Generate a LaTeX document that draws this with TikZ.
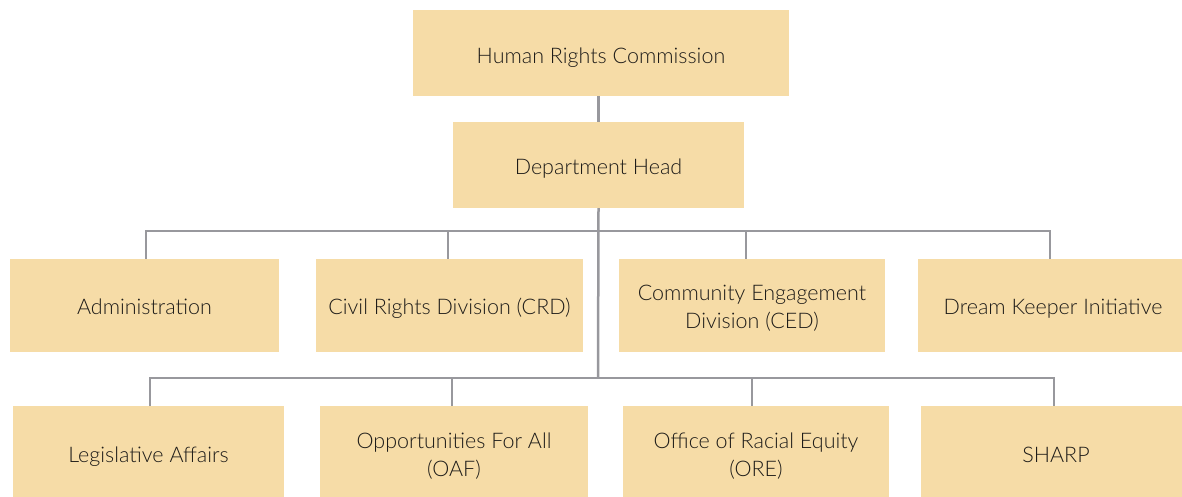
\documentclass[tikz,border=0pt]{standalone}
\usepackage{fontspec}
\setmainfont{Lato Light}
\definecolor{boxfill}{RGB}{246,220,167}
\definecolor{linegray}{RGB}{152,152,157}
\definecolor{txt}{RGB}{30,28,25}
\newcommand{\boxtxt}[2][-3pt]{\raisebox{#1}[\height][\depth]{\begin{tabular}{@{}c@{}}#2\end{tabular}}}
\begin{document}
\begin{tikzpicture}[x=1pt,y=-1pt,
  orgbox/.style={fill=boxfill, inner sep=0pt, align=center, text=txt,
    font=\fontsize{21.5}{28}\selectfont},
  conn/.style={draw=linegray, line width=2.5pt}]
\useasboundingbox (0,0) rectangle (1182,497);
\node[orgbox, minimum width=376, minimum height=86] (hrc) at (601,53) {\boxtxt[-5pt]{Human Rights Commission}};
\node[orgbox, minimum width=291, minimum height=86] (dh) at (598.5,165) {\boxtxt[-4pt]{Department Head}};
% row 1
\node[orgbox, minimum width=269, minimum height=93] (admin) at (144.5,305.5) {\boxtxt{Administration}};
\node[orgbox, minimum width=267, minimum height=93] (crd) at (449.5,305.5) {\boxtxt{Civil Rights Division (CRD)}};
\node[orgbox, minimum width=266, minimum height=93] (ced) at (752,305.5) {\boxtxt{Community Engagement\\Division (CED)}};
\node[orgbox, minimum width=270, minimum height=93] (dki) at (1053,305.5) {\boxtxt{Dream Keeper Initiative}};
% row 2
\node[orgbox, minimum width=271, minimum height=96] (leg) at (148.5,454) {\boxtxt{Legislative Affairs}};
\node[orgbox, minimum width=268, minimum height=96] (oaf) at (454,454) {\boxtxt{Opportunities For All\\(OAF)}};
\node[orgbox, minimum width=266, minimum height=96] (ore) at (756,454) {\boxtxt{Office of Racial Equity\\(ORE)}};
\node[orgbox, minimum width=270, minimum height=96] (sharp) at (1056,454) {\boxtxt{SHARP}};
% connectors
\coordinate (b1) at (598,231);
\coordinate (b2) at (598,378);
\draw[conn] (hrc.south -| dh.north) -- (dh.north);
\draw[conn] (dh.south) -- (b2);
\draw[conn] ([xshift=1.5]admin.north) |- (b1) -| ([xshift=-3]dki.north);
\draw[conn] ([xshift=-1.5]crd.north) -- ([xshift=-1.5]crd.north |- b1);
\draw[conn] ([xshift=-6]ced.north) -- ([xshift=-6]ced.north |- b1);
\draw[conn] ([xshift=1.5]leg.north) |- (b2) -| ([xshift=-2]sharp.north);
\draw[conn] ([xshift=-2]oaf.north) -- ([xshift=-2]oaf.north |- b2);
\draw[conn] ([xshift=-4]ore.north) -- ([xshift=-4]ore.north |- b2);
\end{tikzpicture}
\end{document}
